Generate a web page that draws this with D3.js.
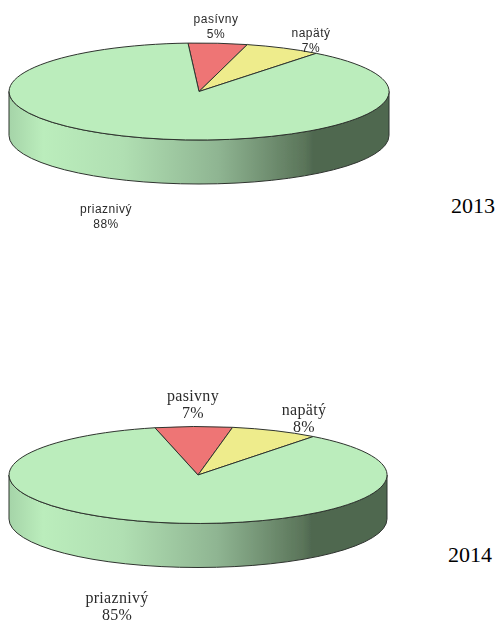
<!DOCTYPE html>
<html>
<head>
<meta charset="utf-8">
<script src="https://cdnjs.cloudflare.com/ajax/libs/d3/7.8.5/d3.min.js"></script>
<style>
body { margin: 0; background: #fff; }
svg { display: block; }
</style>
</head>
<body>
<div class="graphic"></div>
<script>
var svg_width = 500, svg_height = 622;

var categories = ["pasívny", "napätý", "priaznivý"];
var categories2014 = ["pasivny", "napätý", "priaznivý"];
var years = ["2013", "2014"];
var labels2013 = ["5%", "7%", "88%"];
var labels2014 = ["7%", "8%", "85%"];
// slice sizes (labels are rounded)
var shares2013 = [5.0, 6.5, 88.5];
var shares2014 = [6.6, 7.5, 85.9];
var sliceColors = ["#ee7575", "#eeec8c", "#bbedbc"];
var sideStops = [
  {at: 0, color: "#a5d4a8"},
  {at: 0.09, color: "#bbedbc"},
  {at: 0.3, color: "#b0dfb2"},
  {at: 0.55, color: "#8fb592"},
  {at: 0.78, color: "#5a7459"},
  {at: 0.8, color: "#4f6850"},
  {at: 1, color: "#4f6850"}
];

var svg = d3.select(".graphic")
  .append("svg")
  .attr("width", svg_width)
  .attr("height", svg_height);

var defs = svg.append("defs");
var soften = defs.append("filter").attr("id", "soften");
soften.append("feGaussianBlur").attr("stdDeviation", 0.45);

var grad = defs.append("linearGradient").attr("id", "side");
grad.selectAll("stop")
  .data(sideStops)
  .enter()
  .append("stop")
  .attr("offset", function(d){ return d.at; })
  .attr("stop-color", function(d){ return d.color; });

function drawPie(o) {
  var g = svg.append("g").attr("filter", "url(#soften)");

  // flat pie, squashed through two linear scales
  var sx = d3.scaleLinear().domain([-1, 1]).range([o.cx - o.rx, o.cx + o.rx]);
  var sy = d3.scaleLinear().domain([-1, 1]).range([o.cy - o.ry, o.cy + o.ry]);

  var side = "M" + sx(-1) + "," + sy(0)
    + "A" + o.rx + "," + o.ry + " 0 0 0 " + sx(1) + "," + sy(0)
    + "V" + (sy(0) + o.depth)
    + "A" + o.rx + "," + o.ry + " 0 0 1 " + sx(-1) + "," + (sy(0) + o.depth) + "Z";
  g.append("path")
    .attr("d", side)
    .attr("fill", "url(#side)")
    .attr("stroke", "#2e332e")
    .attr("stroke-width", 1);

  var start = o.start * Math.PI / 180;
  var pie = d3.pie().sort(null).startAngle(start).endAngle(start + 2 * Math.PI);
  var arc = d3.arc().innerRadius(0).outerRadius(1);

  g.append("g")
    .attr("transform", "translate(" + sx(0) + "," + sy(0) + ") scale(" + o.rx + "," + o.ry + ")")
    .selectAll("path")
    .data(pie(o.shares))
    .enter()
    .append("path")
    .attr("d", arc)
    .attr("fill", function(d, i){ return sliceColors[i]; })
    .attr("stroke", "#2e332e")
    .attr("stroke-width", 1)
    .attr("vector-effect", "non-scaling-stroke");

  var text = g.append("g")
    .selectAll("text")
    .data(o.names)
    .enter()
    .append("text")
    .attr("text-anchor", "middle")
    .attr("font-family", o.font)
    .attr("font-size", o.size)
    .attr("letter-spacing", o.spacing)
    .attr("fill", "#2b2b2b");
  text.append("tspan")
    .attr("x", function(d, i){ return o.labelX[i]; })
    .attr("y", function(d, i){ return o.labelY[i]; })
    .text(function(d){ return d; });
  text.append("tspan")
    .attr("x", function(d, i){ return o.labelX[i]; })
    .attr("y", function(d, i){ return o.labelY[i] + o.lineH; })
    .text(function(d, i){ return o.labels[i]; });
}

drawPie({
  cx: 199, cy: 91.5, rx: 190, ry: 48.5, depth: 44, start: -3.3,
  shares: shares2013, names: categories, labels: labels2013,
  font: "'Liberation Sans', Arial, sans-serif", size: 12, spacing: 0.5, lineH: 14.5,
  labelX: [216, 311, 106], labelY: [23, 37, 213]
});

drawPie({
  cx: 198, cy: 475, rx: 189, ry: 48.5, depth: 44, start: -13.2,
  shares: shares2014, names: categories2014, labels: labels2014,
  font: "'Liberation Serif', 'Times New Roman', serif", size: 16, spacing: 0.3, lineH: 17,
  labelX: [193, 304, 117], labelY: [401, 415, 603]
});

// year captions sit outside the charts
svg.selectAll(".year")
  .data(years)
  .enter()
  .append("text")
  .attr("class", "year")
  .attr("x", function(d, i){ return [451, 448][i]; })
  .attr("y", function(d, i){ return [213, 562][i]; })
  .attr("font-family", "'Liberation Serif', 'Times New Roman', serif")
  .attr("font-size", 22)
  .attr("fill", "#000")
  .text(function(d){ return d; });
</script>
</body>
</html>
